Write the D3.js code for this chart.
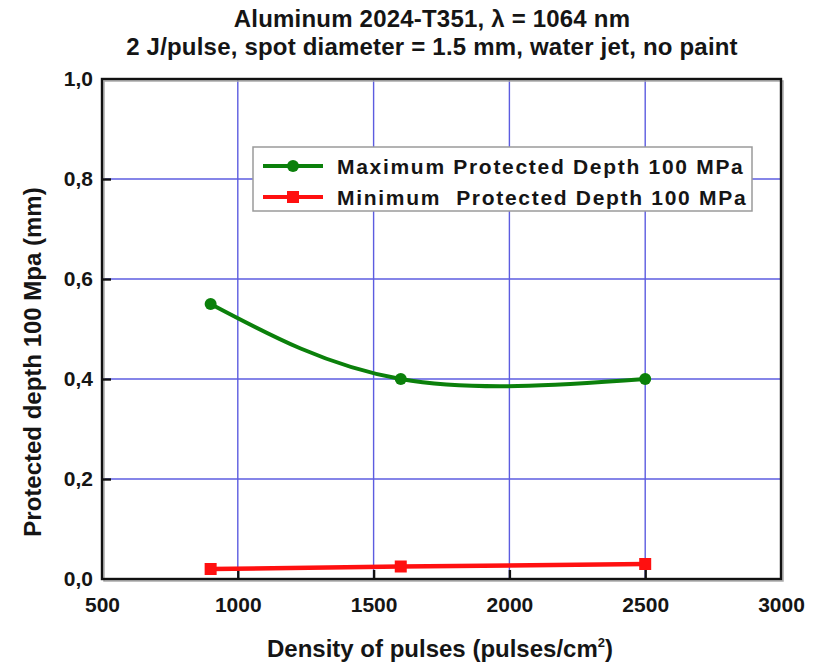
<!DOCTYPE html>
<html>
<head>
<meta charset="utf-8">
<script src="https://cdn.jsdelivr.net/npm/d3@7"></script>
<style>
  html, body { margin: 0; padding: 0; background: #fff; }
  svg { display: block; font-family: "Liberation Sans", Arial, sans-serif; font-weight: bold; }
  text { fill: #151515; }
</style>
</head>
<body>
<svg id="chart" width="823" height="664"></svg>
<script>
// Pulse density (pulses/cm²)
const densities = [900, 1600, 2500];
// Protected depth at 100 MPa (mm)
const maxDepth = [0.55, 0.40, 0.40];
const minDepth = [0.02, 0.025, 0.03];

const xTicks = [500, 1000, 1500, 2000, 2500, 3000];
const yTicks = [0, 0.2, 0.4, 0.6, 0.8, 1.0];
const xGrid = [1000, 1500, 2000, 2500];
const yGrid = [0.2, 0.4, 0.6, 0.8];

const titleLines = ["Aluminum 2024-T351, \u03bb = 1064 nm",
                    "2 J/pulse, spot diameter = 1.5 mm, water jet, no paint"];
const seriesNames = ["Maximum Protected Depth 100 MPa",
                     "Minimum  Protected Depth 100 MPa"];

const svg = d3.select("#chart");
const plotL = 102, plotR = 781, plotT = 79, plotB = 579;

const x = d3.scaleLinear().domain([500, 3000]).range([plotL, plotR]);
const y = d3.scaleLinear().domain([0, 1]).range([plotB, plotT]);

// Titles
svg.selectAll("text.title").data(titleLines).join("text")
  .attr("class", "title")
  .attr("x", 432).attr("y", (d, i) => 27 + i * 28)
  .attr("text-anchor", "middle")
  .style("font-size", "24px").style("letter-spacing", "0.2px")
  .text(d => d);

// Grid
const grid = svg.append("g").attr("stroke", "#5c5ce0").attr("stroke-width", 1.4);
grid.selectAll("line.vx").data(xGrid).join("line")
  .attr("x1", d => x(d)).attr("x2", d => x(d)).attr("y1", plotT).attr("y2", plotB);
grid.selectAll("line.hy").data(yGrid).join("line")
  .attr("y1", d => y(d)).attr("y2", d => y(d)).attr("x1", plotL).attr("x2", plotR);

// Frame shadow + frame
svg.append("rect").attr("x", plotL + 2).attr("y", plotT + 2)
  .attr("width", plotR - plotL).attr("height", plotB - plotT)
  .attr("fill", "none").attr("stroke", "#aaa").attr("stroke-width", 1.5);
svg.append("rect").attr("x", plotL).attr("y", plotT)
  .attr("width", plotR - plotL).attr("height", plotB - plotT)
  .attr("fill", "none").attr("stroke", "#111").attr("stroke-width", 2.4);

// Axes with inward ticks
const xAxis = d3.axisBottom(x).tickValues(xTicks).tickSize(-9).tickPadding(18)
  .tickFormat(d3.format("d"));
const gx = svg.append("g").attr("transform", `translate(0,${plotB})`).call(xAxis);
gx.select(".domain").remove();
gx.selectAll(".tick line").attr("stroke", "#111").attr("stroke-width", 2.4)
  .filter(d => d === 500 || d === 3000).remove();
gx.selectAll(".tick text").style("font-size", "21px").style("font-family", "Liberation Sans, Arial, sans-serif")
  .style("font-weight", "bold").attr("fill", "#151515");

const yAxis = d3.axisLeft(y).tickValues(yTicks).tickSize(-9).tickPadding(9)
  .tickFormat(d => d3.format(".1f")(d).replace(".", ","));
const gy = svg.append("g").attr("transform", `translate(${plotL},0)`).call(yAxis);
gy.select(".domain").remove();
gy.selectAll(".tick line").attr("stroke", "#111").attr("stroke-width", 2.4)
  .filter(d => d === 0 || d === 1).remove();
gy.selectAll(".tick text").style("font-size", "21px").style("font-family", "Liberation Sans, Arial, sans-serif")
  .style("font-weight", "bold").attr("fill", "#151515");

// Axis titles
const xt = svg.append("text").attr("x", 440).attr("y", 657).attr("text-anchor", "middle")
  .style("font-size", "24px");
xt.append("tspan").text("Density of pulses (pulses/cm");
xt.append("tspan").attr("dy", -10).style("font-size", "13px").text("2");
xt.append("tspan").attr("dy", 10).text(")");

svg.append("text")
  .attr("transform", "translate(41,362) rotate(-90)")
  .attr("text-anchor", "middle")
  .style("font-size", "24px")
  .text("Protected depth 100 Mpa (mm)");

// Series
const maxPts = densities.map((d, i) => [d, maxDepth[i]]);
const minPts = densities.map((d, i) => [d, minDepth[i]]);
const green = "#0b800b", red = "#ff1010";

svg.append("path").datum(maxPts)
  .attr("d", d3.line().x(d => x(d[0])).y(d => y(d[1])).curve(d3.curveNatural))
  .attr("fill", "none").attr("stroke", green).attr("stroke-width", 4).attr("stroke-linecap", "round");
svg.selectAll("circle.mx").data(maxPts).join("circle")
  .attr("cx", d => x(d[0])).attr("cy", d => y(d[1])).attr("r", 6).attr("fill", green);

svg.append("path").datum(minPts)
  .attr("d", d3.line().x(d => x(d[0])).y(d => y(d[1])))
  .attr("fill", "none").attr("stroke", red).attr("stroke-width", 4.5);
svg.selectAll("rect.mn").data(minPts).join("rect")
  .attr("x", d => x(d[0]) - 6).attr("y", d => y(d[1]) - 6)
  .attr("width", 12).attr("height", 12).attr("fill", red);

// Legend
const lg = svg.append("g");
lg.append("rect").attr("x", 253).attr("y", 147).attr("width", 499).attr("height", 64)
  .attr("fill", "#fff").attr("stroke", "#9a9a9a").attr("stroke-width", 1.5);
const rows = [{ c: green, m: "circle" }, { c: red, m: "square" }];
rows.forEach((r, i) => {
  const ry = 166 + i * 31;
  lg.append("line").attr("x1", 263).attr("x2", 323).attr("y1", ry).attr("y2", ry)
    .attr("stroke", r.c).attr("stroke-width", 4);
  if (r.m === "circle") {
    lg.append("circle").attr("cx", 293).attr("cy", ry).attr("r", 6).attr("fill", r.c);
  } else {
    lg.append("rect").attr("x", 287).attr("y", ry - 6).attr("width", 12).attr("height", 12).attr("fill", r.c);
  }
  lg.append("text").attr("x", 337).attr("y", ry + 8)
    .style("font-size", "21px").style("letter-spacing", "1.7px").style("white-space", "pre")
    .text(seriesNames[i]);
});
</script>
</body>
</html>
